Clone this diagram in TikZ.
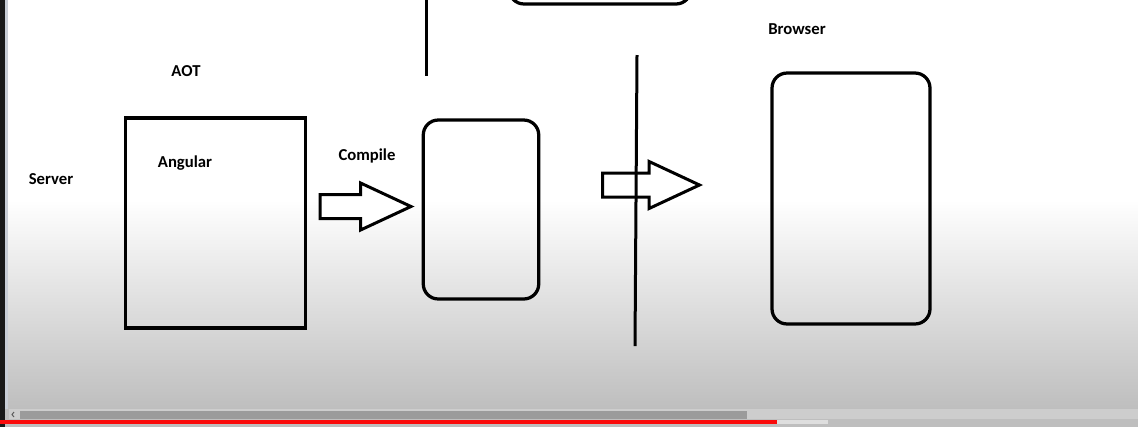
\documentclass[tikz,border=0pt]{standalone}
\usepackage{fontspec}
\setsansfont{Carlito}
\definecolor{bgbottom}{RGB}{190, 190, 190}
\definecolor{track}{RGB}{205, 205, 205}
\definecolor{thumb}{RGB}{155, 155, 155}
\definecolor{played}{RGB}{250, 10, 10}
\definecolor{buffered}{RGB}{222, 222, 222}
\definecolor{edgestrip}{RGB}{200, 205, 214}
\usetikzlibrary{shapes.arrows}

\begin{document}
\begin{tikzpicture}[x=0.02cm, y=-0.02cm,
    lbl/.style={font=\sffamily\bfseries\fontsize{9.5}{11}\selectfont, anchor=base, inner sep=0pt},
    sqbox/.style={draw, line width=0.065cm, inner sep=0pt},
    rbox/.style={sqbox, rounded corners=0.3cm},
    fatarrow/.style={single arrow, draw, fill=white, line width=0.06cm, inner xsep=0pt, inner ysep=0.21cm,
      single arrow head extend=0.23cm, single arrow tip angle=50, minimum width=0pt, anchor=tail},
    divider/.style={line width=0.06cm}]
    \useasboundingbox (0,0) rectangle (1138,427);

    % Background of the screen
    \fill[white] (0,0) rectangle (1138,200);
    \shade[top color=white, bottom color=bgbottom] (0,199.5) rectangle (1138,409);
    \fill[bgbottom] (0,409) rectangle (1138,427);
    \fill[black!90] (0,0) rectangle (5,427);
    \fill[edgestrip] (5,0) rectangle (8,409);

    % Scroll bar and progress line
    \fill[track] (9,409) rectangle (1138,419);
    \fill[thumb] (20,410.5) rectangle (747,419);
    \draw[thumb!60!black, line width=0.02cm] (14,412) -- (12,414.5) -- (14,417);
    \fill[played] (0,420) rectangle (777,424);
    \fill[buffered] (777,420) rectangle (828,424);

    % Server side
    \node[lbl] (aot) at (186,76) {AOT};
    \node[lbl] (server) at (51,184) {Server};
    \node[sqbox, minimum width=3.61cm, minimum height=4.2cm] (angular) at (215.5,223) {};
    \node[lbl] (angtext) at (185,167) {Angular};
    \node[lbl] (compile) at (367,160) {Compile};
    \node[fatarrow, minimum height=1.82cm] (compilearrow) at (318.5,206.5) {};
    \node[rbox, minimum width=2.31cm, minimum height=3.58cm] (bundle) at (481,209.5) {};

    % Upper part, cut by the top edge
    \begin{scope}
      \clip (0,0) rectangle (1138,427);
      \node[rbox, minimum width=3.64cm, minimum height=2cm] (topbox) at (600,-46) {};
      \coordinate (stubtop) at (426,-2);
      \coordinate (stubend) at (426,76);
      \draw[divider] (stubtop) -- (stubend);
    \end{scope}

    % Boundary and browser side
    \coordinate (walltop) at (637,55);
    \coordinate (wallend) at (635,346);
    \node[fatarrow, minimum height=1.94cm] (sendarrow) at (601,185) {};
    \draw[divider] (walltop) -- (wallend);
    \node[lbl] (browser) at (797,34) {Browser};
    \node[rbox, minimum width=3.16cm, minimum height=5.02cm] (browserbox) at (851,198.5) {};
  \end{tikzpicture}
\end{document}
